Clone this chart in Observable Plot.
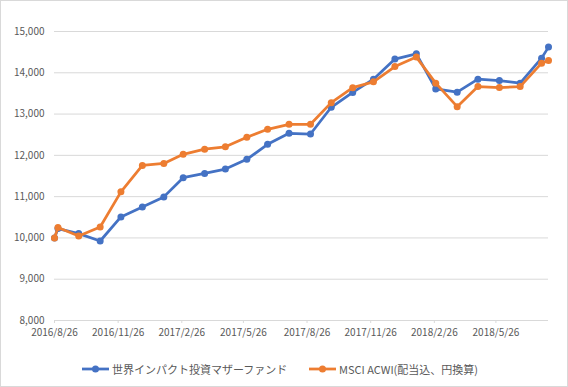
<!DOCTYPE html>
<html>
<head>
<meta charset="utf-8">
<script src="https://cdn.jsdelivr.net/npm/d3@7"></script>
<script src="https://cdn.jsdelivr.net/npm/@observablehq/plot@0.6"></script>
<style>
  html, body { margin: 0; padding: 0; background: #fff; }
  #wrap { position: relative; width: 568px; height: 387px; overflow: hidden; background: #fff; }
  #frame { position: absolute; left: 0; top: 0; width: 568px; height: 387px; box-sizing: border-box; border: 1px solid #d9d9d9; pointer-events: none; }
  #chart { position: absolute; left: 0; top: 0; }
  .leg { position: absolute; top: 361px; height: 16px; display: flex; align-items: center; font-family: 'Noto Sans CJK JP', sans-serif; font-size: 11px; color: #595959; white-space: nowrap; }
  .leg svg { margin-right: 3px; }
</style>
</head>
<body>
<div id="wrap">
  <div id="chart"></div>
  <div id="legend"></div>
  <div id="frame"></div>
</div>
<script>
const dates = ["2016-08-26","2016-08-31","2016-09-30","2016-10-31","2016-11-30","2016-12-31",
  "2017-01-31","2017-02-28","2017-03-31","2017-04-30","2017-05-31","2017-06-30","2017-07-31",
  "2017-08-31","2017-09-30","2017-10-31","2017-11-30","2017-12-31","2018-01-31","2018-02-28",
  "2018-03-31","2018-04-30","2018-05-31","2018-06-30","2018-07-31","2018-08-10"];
const fundValues = [10000,10227,10105,9926,10508,10751,10994,11460,11562,11667,11903,12267,12534,
  12517,13165,13525,13845,14331,14459,13610,13530,13845,13811,13748,14355,14622];
const msciValues = [10000,10251,10047,10266,11116,11757,11805,12024,12150,12208,12437,12631,12752,
  12752,13277,13640,13780,14152,14380,13748,13180,13666,13641,13666,14233,14297];
const seriesNames = ["世界インパクト投資マザーファンド","MSCI ACWI(配当込、円換算)"];
const seriesColors = ["#4472C4","#ED7D31"];
const xTickDates = ["2016-08-26","2016-11-26","2017-02-26","2017-05-26","2017-08-26","2017-11-26","2018-02-26","2018-05-26"];
const yTicks = [8000,9000,10000,11000,12000,13000,14000,15000];

const parse = s => new Date(s + "T00:00:00Z");
const fund = dates.map((d, i) => ({date: parse(d), value: fundValues[i]}));
const msci = dates.map((d, i) => ({date: parse(d), value: msciValues[i]}));
const xticks = xTickDates.map(parse);
const fmtDate = d => `${d.getUTCFullYear()}/${d.getUTCMonth() + 1}/${d.getUTCDate()}`;

const chart = Plot.plot({
  width: 568,
  height: 345,
  marginTop: 31,
  marginBottom: 25,
  marginLeft: 54,
  marginRight: 20,
  style: {fontFamily: "'Noto Sans CJK JP', sans-serif", fontSize: "10px", color: "#595959", background: "transparent"},
  x: {type: "utc", domain: [parse(dates[0]), parse(dates[dates.length - 1])]},
  y: {domain: [8000, 15000]},
  marks: [
    Plot.gridY(yTicks, {stroke: "#d9d9d9", strokeOpacity: 1, strokeWidth: 1}),
    Plot.axisY(yTicks, {tickSize: 0, tickPadding: 10, tickFormat: d3.format(","), label: null, fill: "#595959"}),
    Plot.axisX(xticks, {tickSize: 3, tickPadding: 5, tickFormat: fmtDate, label: null, stroke: "#d9d9d9", fill: "#595959"}),
    Plot.ruleY([8000], {stroke: "#d9d9d9", strokeWidth: 1}),
    Plot.line(fund, {x: "date", y: "value", stroke: seriesColors[0], strokeWidth: 2.75}),
    Plot.dot(fund, {x: "date", y: "value", fill: seriesColors[0], r: 3.5}),
    Plot.line(msci, {x: "date", y: "value", stroke: seriesColors[1], strokeWidth: 2.75}),
    Plot.dot(msci, {x: "date", y: "value", fill: seriesColors[1], r: 3.5})
  ]
});
document.getElementById("chart").appendChild(chart);

const legend = document.getElementById("legend");
const legendX = [82, 309];
seriesNames.forEach((name, i) => {
  const item = document.createElement("div");
  item.className = "leg";
  item.style.left = legendX[i] + "px";
  item.innerHTML = `<svg width="27" height="10"><line x1="0" y1="5" x2="27" y2="5" stroke="${seriesColors[i]}" stroke-width="2.75"/><circle cx="13.5" cy="5" r="3.5" fill="${seriesColors[i]}"/></svg><span>${name}</span>`;
  legend.appendChild(item);
});
</script>
</body>
</html>
